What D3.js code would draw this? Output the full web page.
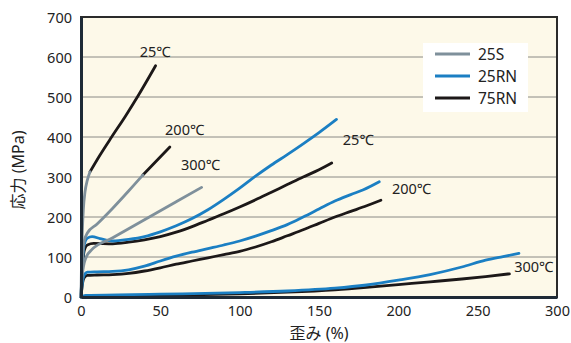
<!DOCTYPE html>
<html>
<head>
<meta charset="utf-8">
<script src="https://cdn.jsdelivr.net/npm/d3@7"></script>
<style>
  body { margin: 0; background: #fff; }
  text { font-family: "Noto Sans", "Noto Sans CJK JP", sans-serif; fill: #222; }
</style>
</head>
<body>
<div id="chart"></div>
<script>
// strain (%) / stress (MPa)
var s25S_25 = [[0,0],[0.3,80],[0.8,160],[1.5,220],[2.5,262],[4,292],[5.7,313]];
var s25S_200 = [[0,0],[0.5,60],[1,100],[2,140],[4,160],[10,182],[20,222],[30,265],[39,305]];
var s25S_300 = [[0,0],[0.5,40],[1.5,75],[3,97],[6.5,117],[20,148],[40,193],[60,238],[76,274]];
var ext_25 = [[5.7,313],[12,355],[19.3,400],[28,452],[36,503],[47,578]];
var ext_200 = [[39,305],[56,375]];

var rn25_25 = [[0,0],[1,90],[2,130],[4,147],[7,151],[12,146],[20,140],[30,144],[40,151],[50,163],[60,178],[70,196],[80,218],[90,244],[100,272],[110,302],[120,330],[130,356],[140,383],[150,411],[161,444]];
var rn25_200 = [[0,0],[1,40],[2,55],[4,62],[10,63],[20,64],[30,68],[40,77],[50,90],[60,102],[70,112],[80,121],[90,130],[100,140],[110,152],[120,166],[130,181],[140,200],[150,220],[160,240],[170,256],[178,268],[188,288]];
var rn25_300 = [[0,0],[3,4],[50,7],[100,11],[130,15],[160,22],[180,30],[200,42],[220,56],[240,75],[255,92],[266,101],[276,109]];

var rn75_25 = [[0,0],[1,80],[2,115],[4,130],[8,134],[20,133],[30,137],[40,143],[50,151],[60,162],[70,176],[80,192],[90,208],[100,225],[110,243],[120,262],[130,281],[140,300],[150,318],[158,335]];
var rn75_200 = [[0,0],[1,35],[2,48],[4,54],[10,55],[20,56],[30,59],[40,65],[50,73],[60,82],[70,90],[80,98],[90,106],[100,114],[110,125],[120,138],[130,153],[140,168],[150,184],[160,200],[170,214],[180,228],[189,242]];
var rn75_300 = [[0,0],[3,2],[50,4],[100,8],[130,12],[160,18],[180,24],[200,31],[220,38],[240,45],[255,51],[270,58]];

var xTicks = [0, 50, 100, 150, 200, 250, 300];
var yTicks = [0, 100, 200, 300, 400, 500, 600, 700];
var legendNames = ["25S", "25RN", "75RN"];
var tempLabels = [
  {t: "25℃", x: 37, y: 600}, {t: "200℃", x: 53, y: 405}, {t: "300℃", x: 63, y: 318},
  {t: "25℃", x: 165, y: 380}, {t: "200℃", x: 196, y: 258}, {t: "300℃", x: 273, y: 62}
];

var colors = {gray: "#7f909b", blue: "#1b7fc3", black: "#1c1818"};

var width = 571, height = 343;
var margin = {left: 81, right: 14, top: 17, bottom: 46};

var svg = d3.select("#chart").append("svg")
    .attr("width", width)
    .attr("height", height);

var x = d3.scaleLinear().domain([0, 300]).range([margin.left, width - margin.right]);
var y = d3.scaleLinear().domain([0, 700]).range([height - margin.bottom, margin.top]);

// plot background
svg.append("rect")
    .attr("x", x(0)).attr("y", y(700))
    .attr("width", x(300) - x(0)).attr("height", y(0) - y(700))
    .attr("fill", "#fdf9e9");

// grid
svg.append("g").selectAll("line")
    .data(yTicks.filter(d => d > 0 && d < 700))
    .enter().append("line")
    .attr("x1", x(0)).attr("x2", x(300))
    .attr("y1", d => y(d)).attr("y2", d => y(d))
    .attr("stroke", "#8a8a86").attr("stroke-width", 1);

// legend box (covers grid)
svg.append("rect")
    .attr("x", 423).attr("y", 43).attr("width", 105).attr("height", 69)
    .attr("fill", "#ffffff");

var line = d3.line()
    .x(d => x(d[0]))
    .y(d => y(d[1]))
    .curve(d3.curveMonotoneX);

function draw(data, color){
    svg.append("path")
        .datum(data)
        .attr("d", line)
        .attr("fill", "none")
        .attr("stroke", color)
        .attr("stroke-width", 2.8)
        .attr("stroke-linecap", "round")
        .attr("stroke-linejoin", "round");
}

draw(rn75_300, colors.black);
draw(rn25_300, colors.blue);
draw(rn75_200, colors.black);
draw(rn25_200, colors.blue);
draw(rn75_25, colors.black);
draw(rn25_25, colors.blue);
draw(ext_25, colors.black);
draw(ext_200, colors.black);
draw(s25S_300, colors.gray);
draw(s25S_200, colors.gray);
draw(s25S_25, colors.gray);

// frame
svg.append("rect")
    .attr("x", x(0)).attr("y", y(700))
    .attr("width", x(300) - x(0)).attr("height", y(0) - y(700))
    .attr("fill", "none").attr("stroke", "#2b2b2b").attr("stroke-width", 2);

var xAxis = svg.append("g")
    .attr("transform", `translate(0,${y(0)})`)
    .call(d3.axisBottom(x).tickValues(xTicks).tickSize(0).tickPadding(9));
var yAxis = svg.append("g")
    .attr("transform", `translate(${x(0)},0)`)
    .call(d3.axisLeft(y).tickValues(yTicks).tickSize(0).tickPadding(9));
[xAxis, yAxis].forEach(function(a){
    a.select(".domain")
        .attr("stroke", "#1e2a36").attr("stroke-width", 3);
    a.selectAll("text")
        .attr("font-size", 14.5)
        .attr("font-family", "Noto Sans, sans-serif")
        .attr("fill", "#222");
});
yAxis.selectAll("text").attr("dy", "0.36em");

// temperature labels
svg.append("g").selectAll("text")
    .data(tempLabels)
    .enter().append("text")
    .attr("x", d => x(d.x))
    .attr("y", d => y(d.y))
    .attr("font-size", 14.5)
    .attr("font-family", "Noto Sans CJK JP, sans-serif")
    .text(d => d.t);

// axis titles
svg.append("text")
    .attr("x", x(150)).attr("y", 339)
    .attr("text-anchor", "middle")
    .attr("font-size", 16)
    .text("歪み (%)");
svg.append("text")
    .attr("transform", "translate(24,170) rotate(-90)")
    .attr("text-anchor", "middle")
    .attr("font-size", 16)
    .text("応力 (MPa)");

// legend
var legColors = [colors.gray, colors.blue, colors.black];
var leg = svg.append("g").selectAll("g")
    .data(legendNames)
    .enter().append("g")
    .attr("transform", (d, i) => `translate(435,${54 + i * 22})`);
leg.append("line")
    .attr("x1", 0).attr("x2", 35)
    .attr("stroke", (d, i) => legColors[i])
    .attr("stroke-width", 3);
leg.append("text")
    .attr("x", 43).attr("dy", "0.36em")
    .attr("font-size", 15.5)
    .text(d => d);
</script>
</body>
</html>
